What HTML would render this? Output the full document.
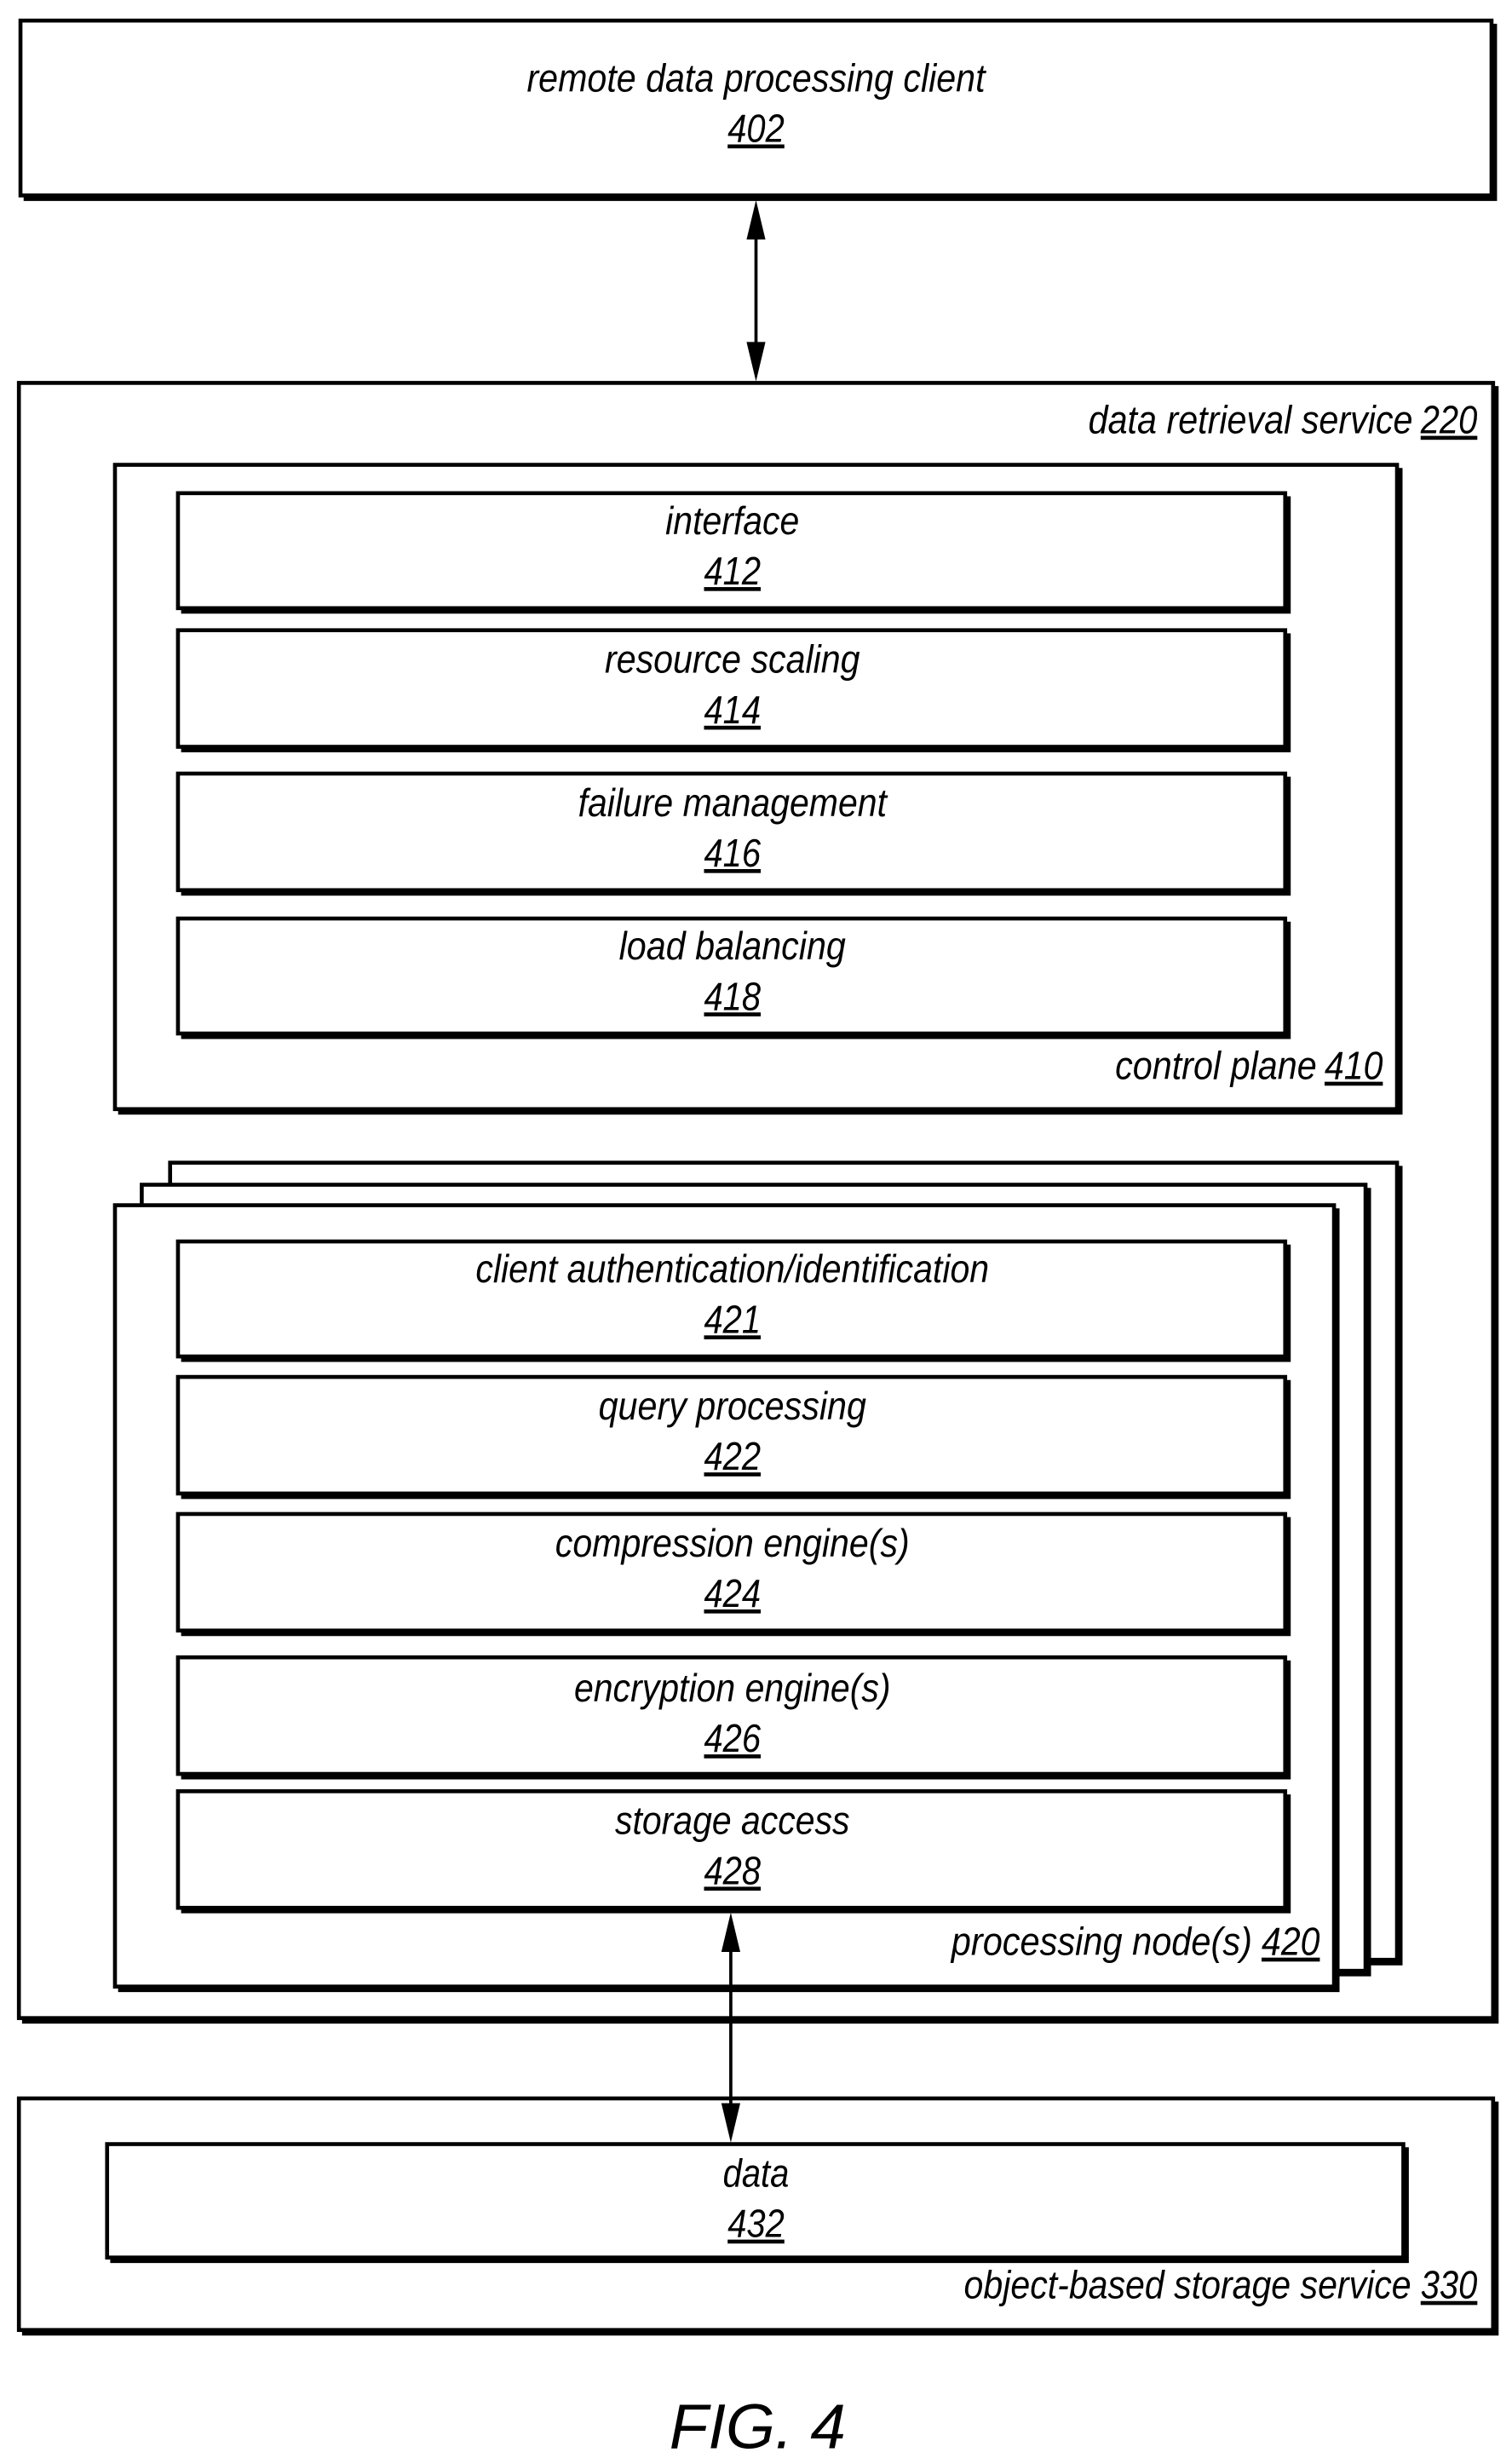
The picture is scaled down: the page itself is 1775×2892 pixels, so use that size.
<!DOCTYPE html>
<html><head><meta charset="utf-8"><style>
html,body{margin:0;padding:0;background:#fff;}
svg{display:block;}
text{font-family:"Liberation Sans Narrow","Liberation Sans",sans-serif;font-style:italic;font-size:25px;fill:#000;}
</style></head><body>
<svg width="1775" height="2892" viewBox="0 0 960 1564" xmlns="http://www.w3.org/2000/svg">
<g stroke="#000">
<!-- top box -->
<rect x="13" y="13" width="934" height="111" fill="#fff" stroke-width="2.5"/>
<polyline points="15,126 949,126 949,15" fill="none" stroke-width="3"/>
<!-- outer 220 -->
<rect x="12" y="243" width="936" height="1038" fill="#fff" stroke-width="2.5"/>
<polyline points="14,1283 950,1283 950,245" fill="none" stroke-width="3"/>
<!-- control plane -->
<rect x="73" y="295" width="814" height="409" fill="#fff" stroke-width="2.5"/>
<polyline points="75,706 889,706 889,297" fill="none" stroke-width="3"/>
<rect x="113" y="313" width="703" height="73" fill="#fff" stroke-width="2.5"/>
<polyline points="115,388 818,388 818,315" fill="none" stroke-width="3"/>
<rect x="113" y="400" width="703" height="74" fill="#fff" stroke-width="2.5"/>
<polyline points="115,476 818,476 818,402" fill="none" stroke-width="3"/>
<rect x="113" y="491" width="703" height="74" fill="#fff" stroke-width="2.5"/>
<polyline points="115,567 818,567 818,493" fill="none" stroke-width="3"/>
<rect x="113" y="583" width="703" height="73" fill="#fff" stroke-width="2.5"/>
<polyline points="115,658 818,658 818,585" fill="none" stroke-width="3"/>
<!-- stacked nodes back to front -->
<rect x="108" y="738" width="779" height="506" fill="#fff" stroke-width="2.5"/>
<polyline points="110,1246 889,1246 889,740" fill="none" stroke-width="3"/>
<rect x="90" y="752" width="777" height="499" fill="#fff" stroke-width="2.5"/>
<polyline points="92,1253 869,1253 869,754" fill="none" stroke-width="3"/>
<rect x="73" y="765" width="774" height="496" fill="#fff" stroke-width="2.5"/>
<polyline points="75,1263 849,1263 849,767" fill="none" stroke-width="3"/>
<rect x="113" y="788" width="703" height="73" fill="#fff" stroke-width="2.5"/>
<polyline points="115,863 818,863 818,790" fill="none" stroke-width="3"/>
<rect x="113" y="874" width="703" height="74" fill="#fff" stroke-width="2.5"/>
<polyline points="115,950 818,950 818,876" fill="none" stroke-width="3"/>
<rect x="113" y="961" width="703" height="74" fill="#fff" stroke-width="2.5"/>
<polyline points="115,1037 818,1037 818,963" fill="none" stroke-width="3"/>
<rect x="113" y="1052" width="703" height="74" fill="#fff" stroke-width="2.5"/>
<polyline points="115,1128 818,1128 818,1054" fill="none" stroke-width="3"/>
<rect x="113" y="1137" width="703" height="74" fill="#fff" stroke-width="2.5"/>
<polyline points="115,1213 818,1213 818,1139" fill="none" stroke-width="3"/>
<!-- storage -->
<rect x="12" y="1332" width="936" height="147" fill="#fff" stroke-width="2.5"/>
<polyline points="14,1481 950,1481 950,1334" fill="none" stroke-width="3"/>
<rect x="68" y="1361" width="823" height="72" fill="#fff" stroke-width="2.5"/>
<polyline points="70,1435 893,1435 893,1363" fill="none" stroke-width="3"/>
</g>
<!-- arrows -->
<g stroke="#000" stroke-width="2">
<line x1="480" y1="145" x2="480" y2="224"/>
<line x1="464" y1="1232" x2="464" y2="1342"/>
</g>
<g fill="#000">
<polygon points="480,127 474,152 486,152"/>
<polygon points="480,242 474,217 486,217"/>
<polygon points="464,1214 458,1239 470,1239"/>
<polygon points="464,1360 458,1335 470,1335"/>
</g>
<!-- text -->
<g text-anchor="middle">
<text x="480" y="58" textLength="291" lengthAdjust="spacingAndGlyphs">remote data processing client</text>
<text x="480" y="90" textLength="36" lengthAdjust="spacingAndGlyphs" text-decoration="underline">402</text>
<text x="465" y="339" textLength="85" lengthAdjust="spacingAndGlyphs">interface</text>
<text x="465" y="371" textLength="36" lengthAdjust="spacingAndGlyphs" text-decoration="underline">412</text>
<text x="465" y="427" textLength="162" lengthAdjust="spacingAndGlyphs">resource scaling</text>
<text x="465" y="459" textLength="36" lengthAdjust="spacingAndGlyphs" text-decoration="underline">414</text>
<text x="465" y="518" textLength="196" lengthAdjust="spacingAndGlyphs">failure management</text>
<text x="465" y="550" textLength="36" lengthAdjust="spacingAndGlyphs" text-decoration="underline">416</text>
<text x="465" y="609" textLength="144" lengthAdjust="spacingAndGlyphs">load balancing</text>
<text x="465" y="641" textLength="36" lengthAdjust="spacingAndGlyphs" text-decoration="underline">418</text>
<text x="465" y="814" textLength="326" lengthAdjust="spacingAndGlyphs">client authentication/identification</text>
<text x="465" y="846" textLength="36" lengthAdjust="spacingAndGlyphs" text-decoration="underline">421</text>
<text x="465" y="901" textLength="170" lengthAdjust="spacingAndGlyphs">query processing</text>
<text x="465" y="933" textLength="36" lengthAdjust="spacingAndGlyphs" text-decoration="underline">422</text>
<text x="465" y="988" textLength="225" lengthAdjust="spacingAndGlyphs">compression engine(s)</text>
<text x="465" y="1020" textLength="36" lengthAdjust="spacingAndGlyphs" text-decoration="underline">424</text>
<text x="465" y="1080" textLength="201" lengthAdjust="spacingAndGlyphs">encryption engine(s)</text>
<text x="465" y="1112" textLength="36" lengthAdjust="spacingAndGlyphs" text-decoration="underline">426</text>
<text x="465" y="1164" textLength="149" lengthAdjust="spacingAndGlyphs">storage access</text>
<text x="465" y="1196" textLength="36" lengthAdjust="spacingAndGlyphs" text-decoration="underline">428</text>
<text x="480" y="1388" textLength="42" lengthAdjust="spacingAndGlyphs">data</text>
<text x="480" y="1420" textLength="36" lengthAdjust="spacingAndGlyphs" text-decoration="underline">432</text>
</g>
<g text-anchor="start">
<text x="691" y="275" textLength="206" lengthAdjust="spacingAndGlyphs">data retrieval service</text>
<text x="902" y="275" textLength="36" lengthAdjust="spacingAndGlyphs" text-decoration="underline">220</text>
<text x="708" y="685" textLength="128" lengthAdjust="spacingAndGlyphs">control plane</text>
<text x="841" y="685" textLength="37" lengthAdjust="spacingAndGlyphs" text-decoration="underline">410</text>
<text x="604" y="1241" textLength="191" lengthAdjust="spacingAndGlyphs">processing node(s)</text>
<text x="801" y="1241" textLength="37" lengthAdjust="spacingAndGlyphs" text-decoration="underline">420</text>
<text x="612" y="1459" textLength="284" lengthAdjust="spacingAndGlyphs">object-based storage service</text>
<text x="902" y="1459" textLength="36" lengthAdjust="spacingAndGlyphs" text-decoration="underline">330</text>
</g>
<text x="481" y="1554" text-anchor="middle" style="font-family:'Liberation Sans',sans-serif;font-size:40px;" textLength="112" lengthAdjust="spacingAndGlyphs">FIG. 4</text>
</svg>
</body></html>
